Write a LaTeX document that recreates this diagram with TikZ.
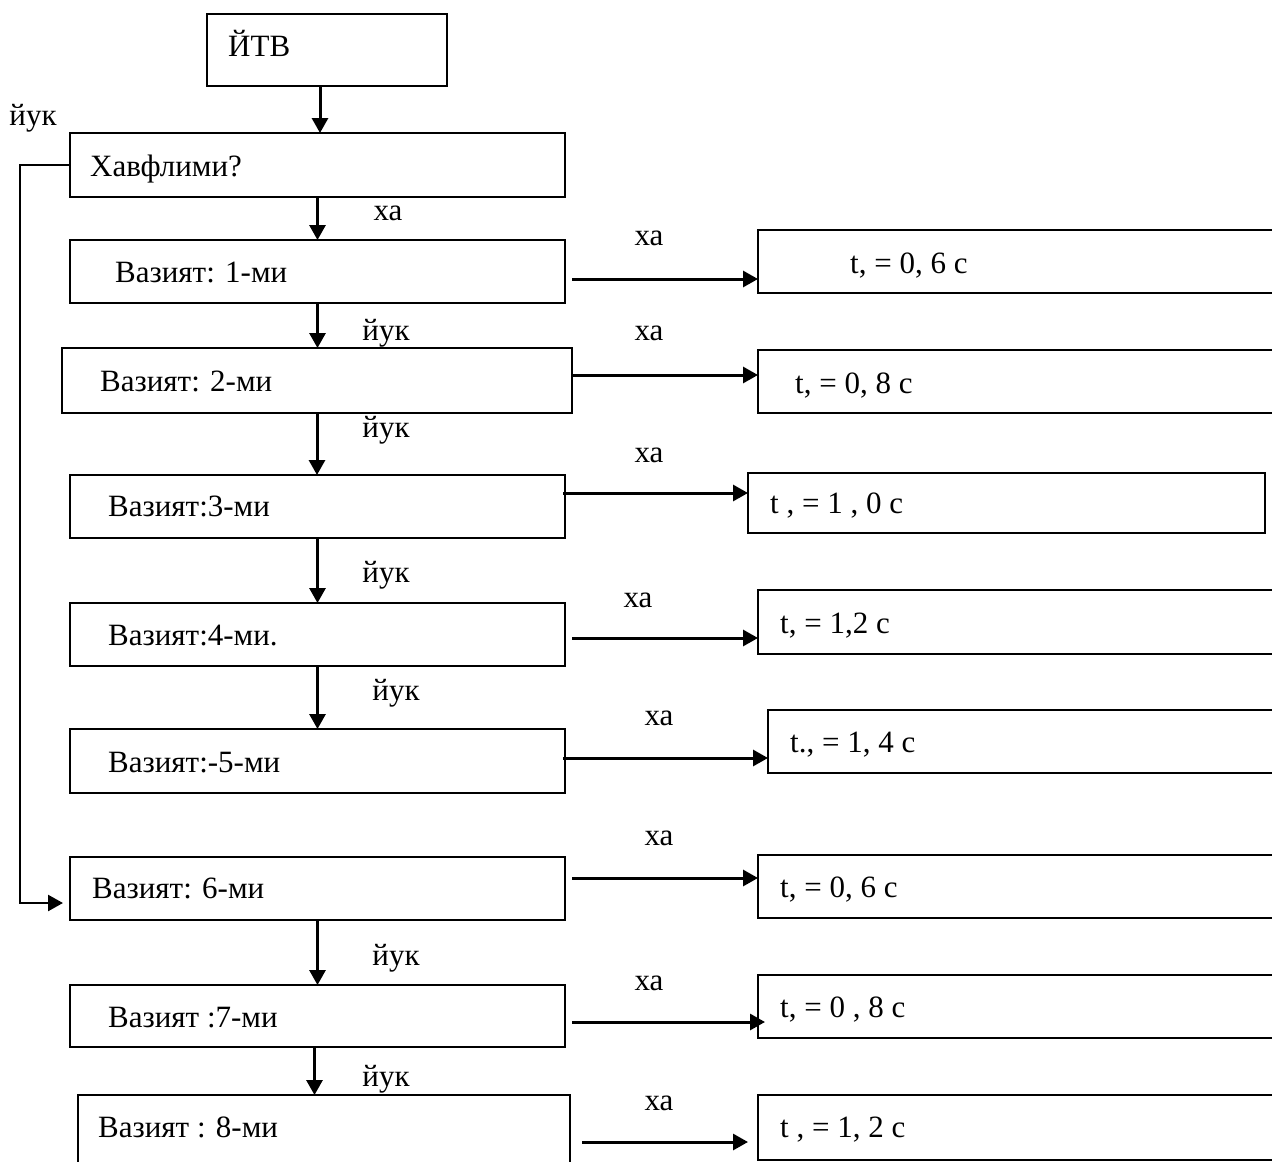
\documentclass[tikz,border=0pt]{standalone}
\usepackage{fontspec}
\setmainfont{Liberation Serif}
\usetikzlibrary{arrows.meta,calc}
\newcommand{\bx}[5]{\node[boxst, minimum width={(#4-#2)*1pt}, minimum height={(#5-#3)*1pt}] (#1) at ({(#2+#4)/2},{(#3+#5)/2}) {};}
\begin{document}
\begin{tikzpicture}[x=1pt,y=-1pt,
  boxst/.style={draw, line width=2pt, inner sep=0pt, outer sep=0pt},
  txt/.style={anchor=base west, inner sep=0pt, font=\fontsize{31}{36}\selectfont},
  lbl/.style={anchor=base, inner sep=0pt, font=\fontsize{31}{36}\selectfont},
  arr/.style={line width=3pt, -{Triangle[length=15pt,width=16pt]}},
  lparr/.style={line width=2.5pt, -{Triangle[length=15pt,width=16pt]}}]
\useasboundingbox (0,0) rectangle (1272,1162);
\clip (0,0) rectangle (1272,1162);
% left column boxes
\bx{itv}{207}{14}{447}{86}
\bx{h}{70}{133}{565}{197}
\bx{b1}{70}{240}{565}{303}
\bx{b2}{62}{348}{572}{413}
\bx{b3}{70}{475}{565}{538}
\bx{b4}{70}{603}{565}{666}
\bx{b5}{70}{729}{565}{793}
\bx{b6}{70}{857}{565}{920}
\bx{b7}{70}{985}{565}{1047}
\bx{b8}{78}{1095}{570}{1185}
% right column boxes
\bx{r1}{758}{230}{1295}{293}
\bx{r2}{758}{350}{1295}{413}
\bx{r3}{748}{473}{1265}{533}
\bx{r4}{758}{590}{1295}{654}
\bx{r5}{768}{710}{1295}{773}
\bx{r6}{758}{855}{1295}{918}
\bx{r7}{758}{975}{1295}{1038}
\bx{r8}{758}{1095}{1295}{1160}
% texts in boxes
\node[txt] (titv) at (228,56) {ЙТВ};
\node[txt] (th) at (90,176) {Хавфлими?};
\node[txt] (tb1) at (115,282) {Вазият: 1-ми};
\node[txt] (tb2) at (100,391) {Вазият: 2-ми};
\node[txt] (tb3) at (108,516) {Вазият:3-ми};
\node[txt] (tb4) at (108,645) {Вазият:4-ми.};
\node[txt] (tb5) at (108,772) {Вазият:-5-ми};
\node[txt] (tb6) at (92,898) {Вазият: 6-ми};
\node[txt] (tb7) at (108,1027) {Вазият :7-ми};
\node[txt] (tb8) at (98,1137) {Вазият : 8-ми};
\node[txt] (tr1) at (850,273) {t, = 0, 6 c};
\node[txt] (tr2) at (795,393) {t, = 0, 8 c};
\node[txt] (tr3) at (770,513) {t , = 1 , 0 c};
\node[txt] (tr4) at (780,633) {t, = 1,2 c};
\node[txt] (tr5) at (790,752) {t., = 1, 4 c};
\node[txt] (tr6) at (780,897) {t, = 0, 6 c};
\node[txt] (tr7) at (780,1017) {t, = 0 , 8 c};
\node[txt] (tr8) at (780,1137) {t , = 1, 2 c};
% labels
\node[lbl] (l0) at (33,125) {йук};
\node[lbl] (l1) at (388,220) {ха};
\node[lbl] (y1) at (386,340) {йук};
\node[lbl] (y2) at (386,437) {йук};
\node[lbl] (y3) at (386,582) {йук};
\node[lbl] (y4) at (396,700) {йук};
\node[lbl] (y6) at (396,965) {йук};
\node[lbl] (y7) at (386,1086) {йук};
\node[lbl] (x1) at (649,245) {ха};
\node[lbl] (x2) at (649,340) {ха};
\node[lbl] (x3) at (649,462) {ха};
\node[lbl] (x4) at (638,607) {ха};
\node[lbl] (x5) at (659,725) {ха};
\node[lbl] (x6) at (659,845) {ха};
\node[lbl] (x7) at (649,990) {ха};
\node[lbl] (x8) at (659,1110) {ха};
% vertical arrows
\draw[arr] ($(itv.south)+(-7,0)$) -- ($(itv.south |- h.north)+(-7,0)$);
\draw[arr] (h.south) -- (b1.north);
\draw[arr] (b1.south) -- (b1.south |- b2.north);
\draw[arr] (b2.south) -- (b2.south |- b3.north);
\draw[arr] (b3.south) -- (b4.north);
\draw[arr] (b4.south) -- (b5.north);
\draw[arr] (b6.south) -- (b7.north);
\draw[arr] ($(b7.south)+(-3,0)$) -- ($(b7.south |- b8.north)+(-3,0)$);
% loop
\coordinate (lp1) at (20,165);
\coordinate (lp2) at (20,903);
\draw[lparr] (h.west) -- (lp1) -- (lp2) -- ($(b6.west |- lp2)+(-7,0)$);
% horizontal arrows
\draw[arr] ($(b1.east |- 0,279)+(7,0)$) -- (r1.west |- 0,279);
\draw[arr] (b2.east |- 0,375) -- (r2.west |- 0,375);
\draw[arr] ($(b3.east |- 0,493)+(-2,0)$) -- (r3.west |- 0,493);
\draw[arr] ($(b4.east |- 0,638)+(7,0)$) -- (r4.west |- 0,638);
\draw[arr] ($(b5.east |- 0,758)+(-2,0)$) -- (r5.west |- 0,758);
\draw[arr] ($(b6.east |- 0,878)+(7,0)$) -- (r6.west |- 0,878);
\draw[arr] ($(b7.east |- 0,1022)+(7,0)$) -- ($(r7.west |- 0,1022)+(7,0)$);
\draw[arr] ($(b8.east |- 0,1142)+(12,0)$) -- ($(r8.west |- 0,1142)+(-10,0)$);
\end{tikzpicture}
\end{document}
